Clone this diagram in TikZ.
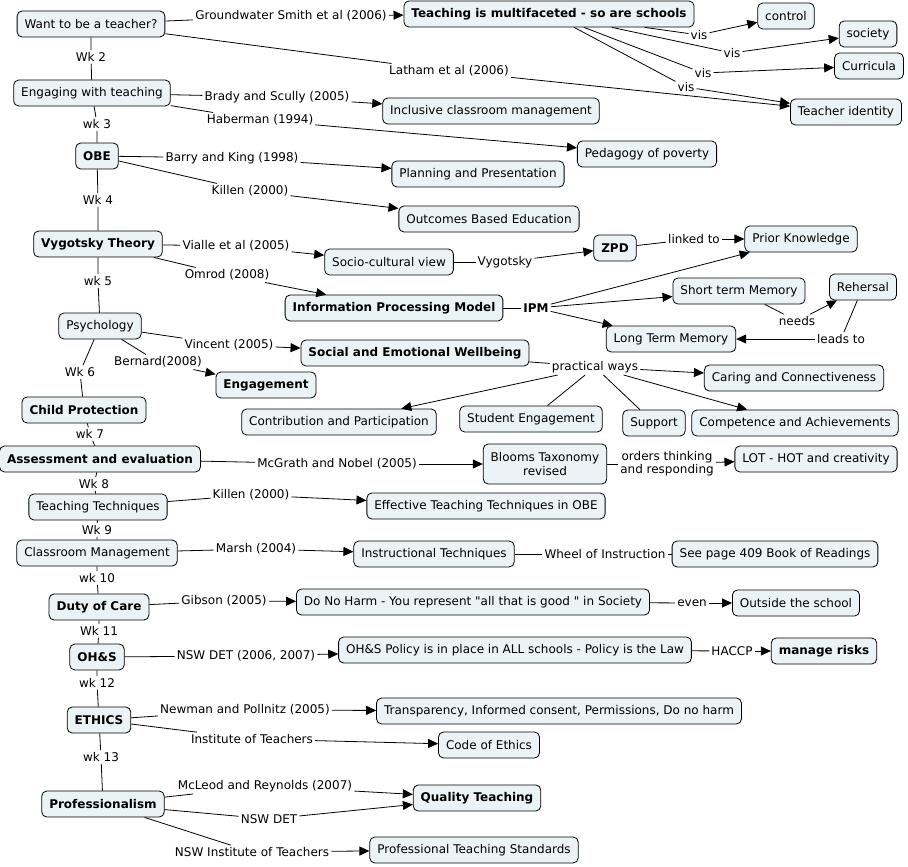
\documentclass[tikz,border=0pt]{standalone}
\usepackage{fontspec}
\setmainfont{DejaVu Sans}[Ligatures=TeXOff]
\usetikzlibrary{arrows.meta}
\definecolor{boxfill}{RGB}{236,243,246}
\begin{document}
\begin{tikzpicture}[x=1pt,y=-1pt,
  every node/.style={font=\fontsize{12}{14}\selectfont},
  concept/.style={draw, rounded corners=5pt, fill=boxfill, line width=0.8pt, minimum height=26pt, inner xsep=7.5pt, inner ysep=2pt},
  bconcept/.style={concept, font=\fontsize{12}{14}\selectfont\bfseries},
  lbl/.style={inner sep=2pt},
  link/.style={line width=0.8pt},
  arr/.style={line width=0.8pt, -{Triangle[length=10pt,width=9pt]}}
]
\useasboundingbox (0,0) rectangle (908,867);
% concepts
\node[concept] (want) at (91,24) {Want to be a teacher?};
\node[bconcept] (multi) at (549,14) {Teaching is multifaceted - so are schools};
\node[concept] (control) at (786,16) {control};
\node[concept] (society) at (868,34) {society};
\node[concept] (curricula) at (869,66) {Curricula};
\node[concept] (identity) at (846,112) {Teacher identity};
\node[concept] (engaging) at (92,93) {Engaging with teaching};
\node[concept] (inclusive) at (491,111) {Inclusive classroom management};
\node[bconcept] (obe) at (97,156) {OBE};
\node[concept] (pedagogy) at (647,154) {Pedagogy of poverty};
\node[concept] (planning) at (478,174) {Planning and Presentation};
\node[concept] (outcomes) at (489,219) {Outcomes Based Education};
\node[bconcept] (vyg) at (98,244) {Vygotsky Theory};
\node[concept] (socio) at (389,262) {Socio-cultural view};
\node[bconcept] (zpd) at (615,248) {ZPD};
\node[concept] (prior) at (801,239) {Prior Knowledge};
\node[concept] (stm) at (739,291) {Short term Memory};
\node[concept] (rehersal) at (863,287) {Rehersal};
\node[bconcept] (ipmodel) at (394,308) {Information Processing Model};
\node[concept] (ltm) at (671,339) {Long Term Memory};
\node[concept] (psych) at (100,326) {Psychology};
\node[bconcept] (social) at (415,353) {Social and Emotional Wellbeing};
\node[bconcept] (engagement) at (266,385) {Engagement};
\node[concept] (caring) at (794,378) {Caring and Connectiveness};
\node[bconcept] (child) at (84,410) {Child Protection};
\node[concept] (contrib) at (339,422) {Contribution and Participation};
\node[concept] (student) at (531,419) {Student Engagement};
\node[concept] (support) at (654,423) {Support};
\node[concept] (competence) at (795,423) {Competence and Achievements};
\node[bconcept] (assess) at (100,459) {Assessment and evaluation};
\node[concept, align=center, minimum height=40pt, font=\fontsize{12}{14}\selectfont] (blooms) at (545,464) {Blooms Taxonomy\\revised};
\node[concept] (lot) at (816,459) {LOT - HOT and creativity};
\node[concept] (teachtech) at (98,507) {Teaching Techniques};
\node[concept] (effective) at (486,506) {Effective Teaching Techniques in OBE};
\node[concept] (classroom) at (97,553) {Classroom Management};
\node[concept] (instruct) at (434,554) {Instructional Techniques};
\node[concept] (seepage) at (775,554) {See page 409 Book of Readings};
\node[bconcept] (duty) at (99,607) {Duty of Care};
\node[concept] (donoharm) at (473,602) {Do No Harm - You represent "all that is good " in Society};
\node[concept] (outside) at (796,603) {Outside the school};
\node[bconcept] (ohs) at (97,657) {OH\&S};
\node[concept] (policy) at (515,650) {OH\&S Policy is in place in ALL schools - Policy is the Law};
\node[bconcept] (manage) at (824,651) {manage risks};
\node[bconcept] (ethics) at (99,720) {ETHICS};
\node[concept] (transp) at (559,711) {Transparency, Informed consent, Permissions, Do no harm};
\node[concept] (code) at (489,745) {Code of Ethics};
\node[bconcept] (prof) at (103,804) {Professionalism};
\node[bconcept] (quality) at (477,798) {Quality Teaching};
\node[concept] (standards) at (474,850) {Professional Teaching Standards};
% linking phrases
\node[lbl] (gs) at (291,16) {Groundwater Smith et al (2006)};
\node[lbl] (latham) at (449,71) {Latham et al (2006)};
\node[lbl] (vis1) at (699,35) {vis};
\node[lbl] (vis2) at (732,53) {vis};
\node[lbl] (vis3) at (703,73) {vis};
\node[lbl] (vis4) at (686,87) {vis};
\node[lbl] (wk2) at (91,57) {Wk 2};
\node[lbl] (wk3) at (97,124) {wk 3};
\node[lbl] (brady) at (277,97) {Brady and Scully (2005)};
\node[lbl] (haber) at (260,120) {Haberman (1994)};
\node[lbl] (barry) at (232,158) {Barry and King (1998)};
\node[lbl] (killen) at (250,191) {Killen (2000)};
\node[lbl] (wk4) at (98,200) {Wk 4};
\node[lbl] (vialle) at (236,246) {Vialle et al (2005)};
\node[lbl] (omrod) at (227,275) {Omrod (2008)};
\node[lbl] (vyglbl) at (505,262) {Vygotsky};
\node[lbl] (linked) at (694,239) {linked to};
\node[lbl] (wk5) at (98,281) {wk 5};
\node[lbl, font=\fontsize{12}{14}\selectfont\bfseries] (ipm) at (536,308) {IPM};
\node[lbl] (needs) at (797,321) {needs};
\node[lbl] (leads) at (841,339) {leads to};
\node[lbl] (vincent) at (229,345) {Vincent (2005)};
\node[lbl] (bernard) at (158,362) {Bernard(2008)};
\node[lbl] (wk6) at (80,372) {Wk 6};
\node[lbl] (practical) at (595,367) {practical ways};
\node[lbl] (wk7) at (90,434) {wk 7};
\node[lbl] (mcgrath) at (337,464) {McGrath and Nobel (2005)};
\node[lbl, align=center, font=\fontsize{12}{13}\selectfont] (orders) at (667,464) {orders thinking\\and responding};
\node[lbl] (wk8) at (94,484) {Wk 8};
\node[lbl] (killen2) at (251,495) {Killen (2000)};
\node[lbl] (wk9) at (97,530) {Wk 9};
\node[lbl] (marsh) at (256,549) {Marsh (2004)};
\node[lbl] (wheel) at (605,554) {Wheel of Instruction};
\node[lbl] (wk10) at (97,578) {wk 10};
\node[lbl] (gibson) at (224,601) {Gibson (2005)};
\node[lbl] (even) at (692,603) {even};
\node[lbl] (wk11) at (99,631) {Wk 11};
\node[lbl] (nswdet) at (246,656) {NSW DET (2006, 2007)};
\node[lbl] (haccp) at (732,651) {HACCP};
\node[lbl] (wk12) at (97,683) {wk 12};
\node[lbl] (newman) at (245,710) {Newman and Pollnitz (2005)};
\node[lbl] (inst) at (252,739) {Institute of Teachers};
\node[lbl] (wk13) at (101,757) {wk 13};
\node[lbl] (mcleod) at (265,786) {McLeod and Reynolds (2007)};
\node[lbl] (nswdet2) at (269,819) {NSW DET};
\node[lbl] (nswinst) at (252,852) {NSW Institute of Teachers};
% connectors
\draw[link] (want) -- (gs); \draw[arr] (gs) -- (multi);
\draw[link] (want) -- (latham); \draw[arr] (latham) -- (identity);
\draw[link] (multi) -- (vis1); \draw[arr] (vis1) -- (control);
\draw[link] (multi) -- (vis2); \draw[arr] (vis2) -- (society);
\draw[link] (multi) -- (vis3); \draw[arr] (vis3) -- (curricula);
\draw[link] (multi) -- (vis4); \draw[arr] (vis4) -- (identity);
\draw[link] (want) -- (wk2) -- (engaging);
\draw[link] (engaging) -- (brady); \draw[arr] (brady) -- (inclusive);
\draw[link] (engaging) -- (haber); \draw[arr] (haber) -- (pedagogy);
\draw[link] (engaging) -- (wk3) -- (obe);
\draw[link] (obe) -- (barry); \draw[arr] (barry) -- (planning);
\draw[link] (obe) -- (killen); \draw[arr] (killen) -- (outcomes);
\draw[link] (obe) -- (wk4) -- (vyg);
\draw[link] (vyg) -- (vialle); \draw[arr] (vialle) -- (socio);
\draw[link] (vyg) -- (omrod); \draw[arr] (omrod) -- (ipmodel);
\draw[link] (socio) -- (vyglbl); \draw[arr] (vyglbl) -- (zpd);
\draw[link] (zpd) -- (linked); \draw[arr] (linked) -- (prior);
\draw[link] (ipmodel) -- (ipm);
\draw[arr] (ipm) -- (prior); \draw[arr] (ipm) -- (stm); \draw[arr] (ipm) -- (ltm);
\draw[link] (stm) -- (needs); \draw[arr] (needs) -- (rehersal);
\draw[link] (rehersal) -- (leads); \draw[arr] (leads) -- (ltm);
\draw[link] (vyg) -- (wk5) -- (psych);
\draw[link] (psych) -- (vincent); \draw[arr] (vincent) -- (social);
\draw[link] (psych) -- (bernard); \draw[arr] (bernard) -- (engagement);
\draw[link] (psych) -- (wk6) -- (child);
\draw[link] (social) -- (practical);
\draw[arr] (practical) -- (caring); \draw[arr] (practical) -- (contrib);
\draw[arr] (practical) -- (competence);
\draw[link] (practical) -- (student); \draw[link] (practical) -- (support);
\draw[link] (child) -- (wk7) -- (assess);
\draw[link] (assess) -- (mcgrath); \draw[arr] (mcgrath) -- (blooms);
\draw[link] (blooms) -- (orders); \draw[arr] (orders) -- (lot);
\draw[link] (assess) -- (wk8) -- (teachtech);
\draw[link] (teachtech) -- (killen2); \draw[arr] (killen2) -- (effective);
\draw[link] (teachtech) -- (wk9) -- (classroom);
\draw[link] (classroom) -- (marsh); \draw[arr] (marsh) -- (instruct);
\draw[link] (instruct) -- (wheel) -- (seepage);
\draw[link] (classroom) -- (wk10) -- (duty);
\draw[link] (duty) -- (gibson); \draw[arr] (gibson) -- (donoharm);
\draw[link] (donoharm) -- (even); \draw[arr] (even) -- (outside);
\draw[link] (duty) -- (wk11) -- (ohs);
\draw[link] (ohs) -- (nswdet); \draw[arr] (nswdet) -- (policy);
\draw[link] (policy) -- (haccp); \draw[arr] (haccp) -- (manage);
\draw[link] (ohs) -- (wk12) -- (ethics);
\draw[link] (ethics) -- (newman); \draw[arr] (newman) -- (transp);
\draw[link] (ethics) -- (inst); \draw[arr] (inst) -- (code);
\draw[link] (ethics) -- (wk13) -- (prof);
\draw[link] (prof) -- (mcleod); \draw[arr] (mcleod) -- (quality);
\draw[link] (prof) -- (nswdet2); \draw[arr] (nswdet2) -- (quality);
\draw[link] (prof) -- (nswinst); \draw[arr] (nswinst) -- (standards);
\end{tikzpicture}
\end{document}
